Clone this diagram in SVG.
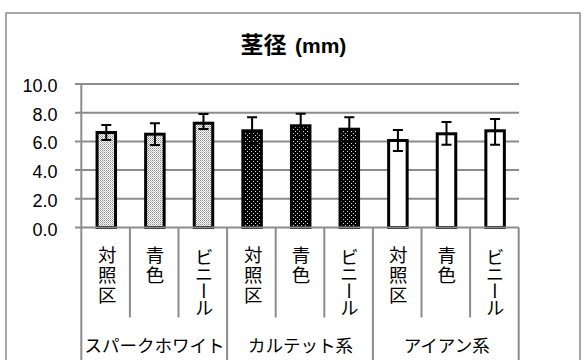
<svg xmlns="http://www.w3.org/2000/svg" width="585" height="360" viewBox="0 0 585 360">
  <style>
    .grid { stroke: #8c8c8c; stroke-width: 2; fill: none; }
    .frame { stroke: #8c8c8c; stroke-width: 1.5; fill: #ffffff; }
    .bar { stroke: #000000; stroke-width: 3; }
    .err { stroke: #000000; stroke-width: 2; fill: none; }
    .ylab { font-family: "Liberation Sans", Arial, sans-serif; font-size: 18px; fill: #000; text-anchor: end; }
    .vlab { font-family: "Noto Sans CJK JP", sans-serif; font-size: 18.5px; fill: #000; writing-mode: vertical-rl; letter-spacing: 1.5px; }
    .vlab2 { font-family: "Noto Sans CJK JP", sans-serif; font-size: 18.5px; fill: #000; writing-mode: vertical-rl; letter-spacing: -1.5px; }
    .glab { font-family: "Noto Sans CJK JP", sans-serif; font-size: 17.5px; fill: #000; text-anchor: middle; }
    .title { font-family: "Liberation Sans", "Noto Sans CJK JP", sans-serif; font-weight: bold; fill: #000; }
  </style>
  <defs>
    <pattern id="light" width="2" height="2" patternUnits="userSpaceOnUse">
      <rect width="2" height="2" fill="#ffffff"/>
      <rect x="0" y="0" width="1" height="1" fill="#8a8a8a"/>
      <rect x="1" y="1" width="1" height="1" fill="#b8b8b8"/>
    </pattern>
    <pattern id="dark" width="4" height="4" patternUnits="userSpaceOnUse">
      <rect width="4" height="4" fill="#000000"/>
      <rect x="1" y="1" width="1" height="1" fill="#dddddd"/>
      <rect x="3" y="3" width="1" height="1" fill="#dddddd"/>
    </pattern>
  </defs>

  <rect class="frame" x="6" y="13" width="574" height="360"/>

  <text class="title" y="52.5"><tspan x="240.5" font-family="'Noto Sans CJK JP', sans-serif" font-size="23">茎径</tspan><tspan x="295" font-size="21">(mm)</tspan></text>

  <g id="gridlines">
    <line class="grid" x1="75" y1="84" x2="519" y2="84"/>
    <line class="grid" x1="75" y1="112.7" x2="519" y2="112.7"/>
    <line class="grid" x1="75" y1="141.4" x2="519" y2="141.4"/>
    <line class="grid" x1="75" y1="170.1" x2="519" y2="170.1"/>
    <line class="grid" x1="75" y1="198.8" x2="519" y2="198.8"/>
  </g>

  <g id="ylabels">
    <text class="ylab" x="57.5" y="92">10.0</text>
    <text class="ylab" x="57.5" y="120.7">8.0</text>
    <text class="ylab" x="57.5" y="149.4">6.0</text>
    <text class="ylab" x="57.5" y="178.1">4.0</text>
    <text class="ylab" x="57.5" y="206.8">2.0</text>
    <text class="ylab" x="57.5" y="235.5">0.0</text>
  </g>

  <g id="bar1"><rect class="bar" fill="url(#light)" x="97.05" y="132.5" width="18.5" height="95"/><path class="err" d="M106.3 125V140M101.3 125H111.3M101.3 140H111.3"/></g>
  <g id="bar2"><rect class="bar" fill="url(#light)" x="145.65" y="134.2" width="18.5" height="93.3"/><path class="err" d="M154.9 123.3V145.1M149.9 123.3H159.9M149.9 145.1H159.9"/></g>
  <g id="bar3"><rect class="bar" fill="url(#light)" x="194.25" y="123.2" width="18.5" height="104.3"/><path class="err" d="M203.5 114V129M198.5 114H208.5M198.5 129H208.5"/></g>
  <g id="bar4"><rect class="bar" fill="url(#dark)" x="242.85" y="130.8" width="18.5" height="96.7"/><path class="err" d="M252.1 117.3V144.3M247.1 117.3H257.1M247.1 144.3H257.1"/></g>
  <g id="bar5"><rect class="bar" fill="url(#dark)" x="291.45" y="125.8" width="18.5" height="101.7"/><path class="err" d="M300.7 113.7V137.9M295.7 113.7H305.7M295.7 137.9H305.7"/></g>
  <g id="bar6"><rect class="bar" fill="url(#dark)" x="340.05" y="129.2" width="18.5" height="98.3"/><path class="err" d="M349.3 117.3V141.1M344.3 117.3H354.3M344.3 141.1H354.3"/></g>
  <g id="bar7"><rect class="bar" fill="#ffffff" x="388.65" y="140.5" width="18.5" height="87"/><path class="err" d="M397.9 130V151M392.9 130H402.9M392.9 151H402.9"/></g>
  <g id="bar8"><rect class="bar" fill="#ffffff" x="437.25" y="133.8" width="18.5" height="93.7"/><path class="err" d="M446.5 122V144.7M441.5 122H451.5M441.5 144.7H451.5"/></g>
  <g id="bar9"><rect class="bar" fill="#ffffff" x="485.85" y="130.8" width="18.5" height="96.7"/><path class="err" d="M495.1 119V144.7M490.1 119H500.1M490.1 144.7H500.1"/></g>

  <g id="axes">
    <line class="grid" x1="75" y1="227.5" x2="519" y2="227.5"/>
    <line class="grid" x1="81.3" y1="84" x2="81.3" y2="362"/>
    <line class="grid" x1="129.9" y1="227.5" x2="129.9" y2="317.5"/>
    <line class="grid" x1="178.5" y1="227.5" x2="178.5" y2="317.5"/>
    <line class="grid" x1="227.1" y1="227.5" x2="227.1" y2="362"/>
    <line class="grid" x1="275.7" y1="227.5" x2="275.7" y2="317.5"/>
    <line class="grid" x1="324.3" y1="227.5" x2="324.3" y2="317.5"/>
    <line class="grid" x1="372.9" y1="227.5" x2="372.9" y2="362"/>
    <line class="grid" x1="421.5" y1="227.5" x2="421.5" y2="317.5"/>
    <line class="grid" x1="470.1" y1="227.5" x2="470.1" y2="317.5"/>
    <line class="grid" x1="518.7" y1="227.5" x2="518.7" y2="362"/>
  </g>

  <g id="category-labels">
    <text class="vlab" x="107.3" y="245.5">対照区</text>
    <text class="vlab" x="155" y="245.5">青色</text>
    <text class="vlab2" x="204" y="247.5">ビニール</text>
    <text class="vlab" x="253.3" y="245.5">対照区</text>
    <text class="vlab" x="301" y="245.5">青色</text>
    <text class="vlab2" x="349.3" y="247.5">ビニール</text>
    <text class="vlab" x="398.3" y="245.5">対照区</text>
    <text class="vlab" x="446.7" y="245.5">青色</text>
    <text class="vlab2" x="495" y="247.5">ビニール</text>
  </g>

  <g id="group-labels">
    <text class="glab" x="154.5" y="351.5">スパークホワイト</text>
    <text class="glab" x="300.5" y="351.5">カルテット系</text>
    <text class="glab" x="446.7" y="351.5">アイアン系</text>
  </g>
</svg>
